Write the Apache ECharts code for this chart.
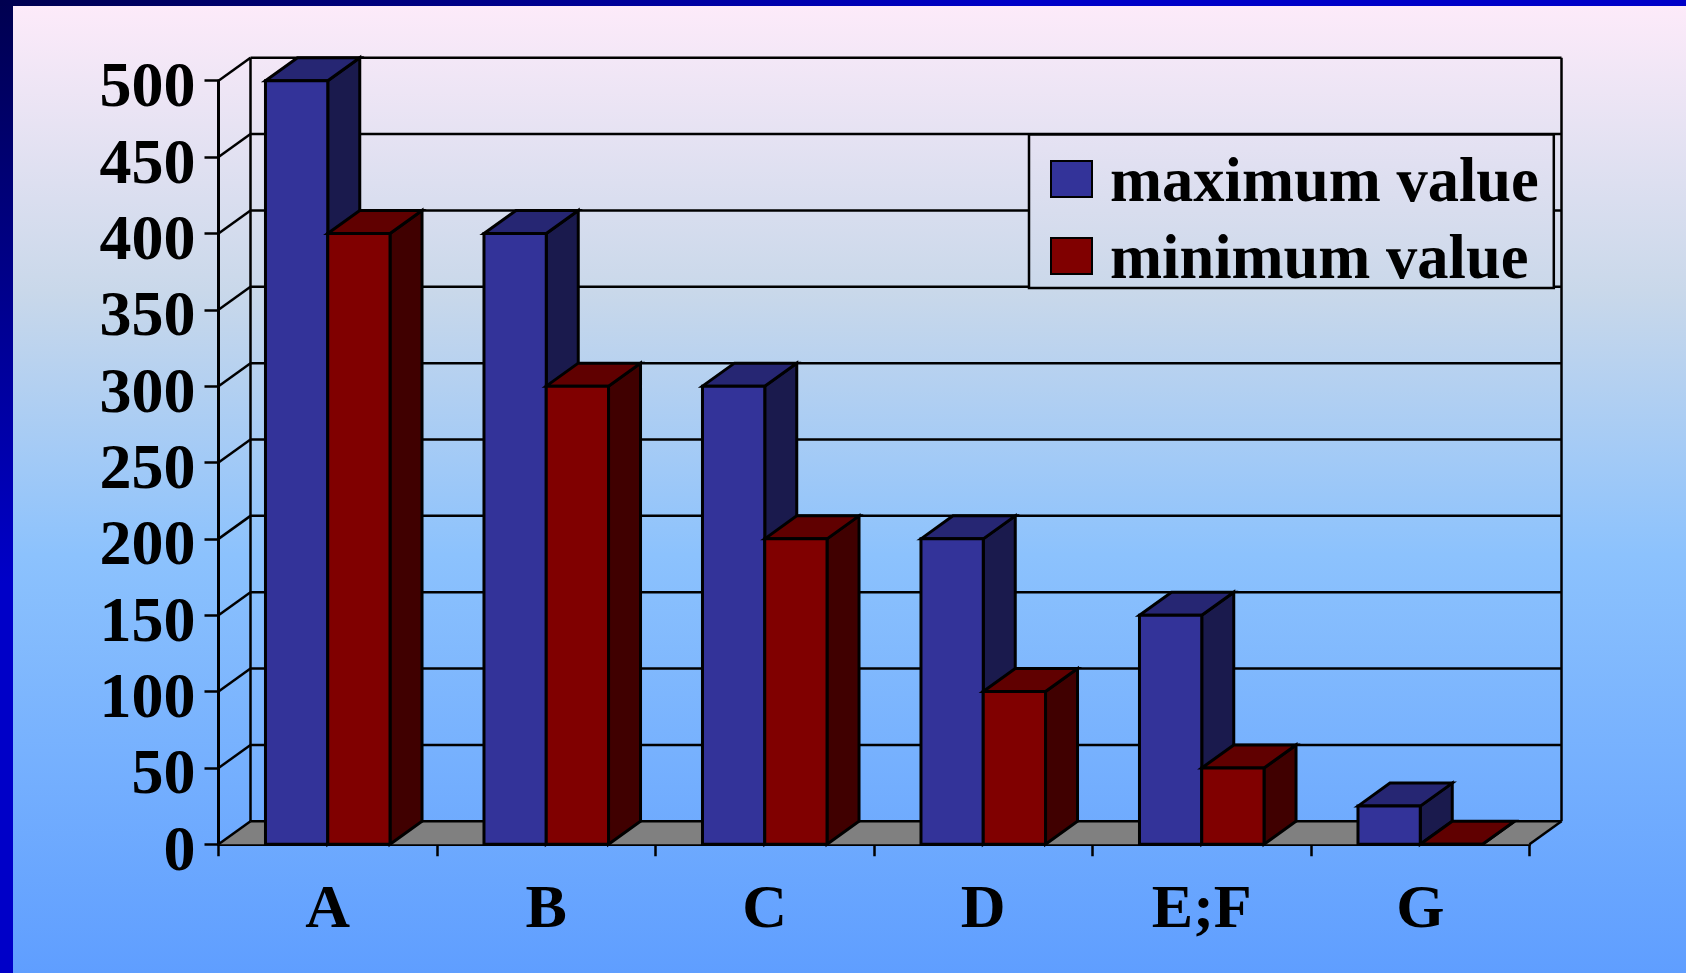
<!DOCTYPE html>
<html>
<head>
<meta charset="utf-8">
<style>html,body{margin:0;padding:0;background:#5f9eff}#c{width:1686px;height:973px}</style>
<script src="https://cdn.jsdelivr.net/npm/echarts@6/dist/echarts.min.js"></script>
</head>
<body>
<div id="c"></div>
<script>
var categories = ['A', 'B', 'C', 'D', 'E;F', 'G'];
var maximumValue = [500, 400, 300, 200, 150, 25];
var minimumValue = [400, 300, 200, 100, 50, 0];
var yTicks = [0, 50, 100, 150, 200, 250, 300, 350, 400, 450, 500];

var DX = 32, DY = -23, BAR = 0.285;
var LINE = '#000';
var bgStops = [[0, [254, 235, 250]], [0.3, [201, 216, 234]], [0.57, [140, 194, 253]], [1, [95, 158, 255]]];

function bgAt(t) {
  for (var i = 1; i < bgStops.length; i++) {
    if (t <= bgStops[i][0]) {
      var a = bgStops[i - 1], b = bgStops[i], k = (t - a[0]) / (b[0] - a[0]);
      return 'rgb(' + [0, 1, 2].map(function (c) { return Math.round(a[1][c] + (b[1][c] - a[1][c]) * k); }).join(',') + ')';
    }
  }
  return 'rgb(95,158,255)';
}
function grad(x2, y2, stops) {
  return new echarts.graphic.LinearGradient(0, 0, x2, y2, stops);
}
var H = 973;

function poly(points, fill) {
  return { type: 'polygon', shape: { points: points }, style: { fill: fill, stroke: LINE, lineWidth: 3, lineJoin: 'miter' } };
}
function line(x1, y1, x2, y2) {
  return { type: 'line', shape: { x1: x1, y1: y1, x2: x2, y2: y2 }, style: { stroke: LINE, lineWidth: 2.5 } };
}

function wallItem(params, api) {
  var cs = params.coordSys, v = api.value(0), y = api.coord([0, v])[1];
  var l = cs.x, r = cs.x + cs.width, kids = [];
  if (params.dataIndex === 0) {
    kids.push({
      type: 'polygon',
      shape: { points: [[l, y], [l + DX, y + DY], [r + DX, y + DY], [r, y]] },
      style: { fill: '#808080', stroke: 'none' }
    });
    kids.push(line(l + DX, cs.y + DY, l + DX, y + DY));
    kids.push(line(r + DX, cs.y + DY, r + DX, y + DY));
    kids.push(line(r, y, r + DX, y + DY));
  }
  kids.push(line(l, y, l + DX, y + DY));
  kids.push(line(l + DX, y + DY, r + DX, y + DY));
  return { type: 'group', children: kids };
}

function barRender(side, front, top, flank) {
  return function (params, api) {
    var c = api.value(0), v = api.value(1);
    var p = api.coord([c, v]), base = api.coord([c, 0])[1];
    var w = api.size([1, 0])[0] * BAR;
    var x0 = side < 0 ? p[0] - w : p[0], x1 = x0 + w, y = p[1];
    return {
      type: 'group',
      children: [
        poly([[x1, y], [x1 + DX, y + DY], [x1 + DX, base + DY], [x1, base]], flank),
        poly([[x0, y], [x0 + DX, y + DY], [x1 + DX, y + DY], [x1, y]], top),
        poly([[x0, y], [x1, y], [x1, base], [x0, base]], front)
      ]
    };
  };
}

var legendTop = 134.4 / H, legendBottom = 288 / H;
var legendStops = [0, 0.5, 1].map(function (k) {
  return { offset: k, color: bgAt(legendTop + (legendBottom - legendTop) * k) };
});

var chart = echarts.init(document.getElementById('c'), null, { renderer: 'canvas' });
chart.setOption({
  animation: false,
  backgroundColor: grad(0, 1, bgStops.map(function (s) { return { offset: s[0], color: bgAt(s[0]) }; })),
  graphic: [
    { type: 'rect', silent: true, shape: { x: 0, y: 0, width: 13, height: H },
      style: { fill: grad(0, 1, [{ offset: 0, color: '#000050' }, { offset: 0.6, color: '#0000c8' }, { offset: 1, color: '#0000c8' }]) } },
    { type: 'rect', silent: true, shape: { x: 0, y: 0, width: 1686, height: 6 },
      style: { fill: grad(1, 0, [{ offset: 0, color: '#000050' }, { offset: 0.6, color: '#0000c8' }, { offset: 1, color: '#0000c8' }]) } }
  ],
  grid: { left: 218.5, top: 80.7, width: 1311, height: 763.6, containLabel: false },
  legend: {
    left: 1029, top: 134.4, orient: 'vertical',
    data: ['maximum value', 'minimum value'],
    padding: [18.5, 15, -5, 21],
    itemWidth: 41, itemHeight: 36, itemGap: 14,
    icon: 'rect',
    borderColor: '#000', borderWidth: 2.5,
    backgroundColor: grad(0, 1, legendStops),
    selectedMode: false,
    formatter: '{t|{name}}',
    textStyle: {
      fontFamily: 'Liberation Serif', fontWeight: 'bold', fontSize: 62.5, color: '#000',
      rich: { t: { fontFamily: 'Liberation Serif', fontWeight: 'bold', fontSize: 62.5, color: '#000', height: 51, padding: [11, 0, 0, 13] } }
    }
  },
  xAxis: {
    type: 'category', data: categories,
    axisLine: { lineStyle: { color: LINE, width: 3 } },
    axisTick: { show: true, length: 12, lineStyle: { color: LINE, width: 2.5 } },
    axisLabel: { interval: 0, margin: 36, color: '#000', fontFamily: 'Liberation Serif', fontWeight: 'bold', fontSize: 62 },
    splitLine: { show: false }
  },
  yAxis: {
    type: 'value', min: 0, max: 500, interval: 50,
    axisLine: { show: true, lineStyle: { color: LINE, width: 3 } },
    axisTick: { show: true, length: 14, lineStyle: { color: LINE, width: 2.5 } },
    axisLabel: { margin: 23, color: '#000', fontFamily: 'Liberation Serif', fontWeight: 'bold', fontSize: 64, verticalAlign: 'top', lineHeight: 18 },
    splitLine: { show: false }
  },
  series: [
    { type: 'custom', name: 'wall', silent: true, z: 1, clip: false, coordinateSystem: 'cartesian2d',
      renderItem: wallItem, encode: { y: 0 }, data: yTicks.map(function (t) { return [t]; }) },
    { type: 'custom', name: 'maximum value', z: 2, clip: false, coordinateSystem: 'cartesian2d',
      itemStyle: { color: '#333399', borderColor: '#000', borderWidth: 2.5 },
      renderItem: barRender(-1, '#333399', '#262673', '#1a1a4d'), encode: { x: 0, y: 1 },
      data: maximumValue.map(function (v, i) { return [i, v]; }) },
    { type: 'custom', name: 'minimum value', z: 3, clip: false, coordinateSystem: 'cartesian2d',
      itemStyle: { color: '#800000', borderColor: '#000', borderWidth: 2.5 },
      renderItem: barRender(1, '#800000', '#600000', '#400000'), encode: { x: 0, y: 1 },
      data: minimumValue.map(function (v, i) { return [i, v]; }) }
  ]
});
</script>
</body>
</html>
